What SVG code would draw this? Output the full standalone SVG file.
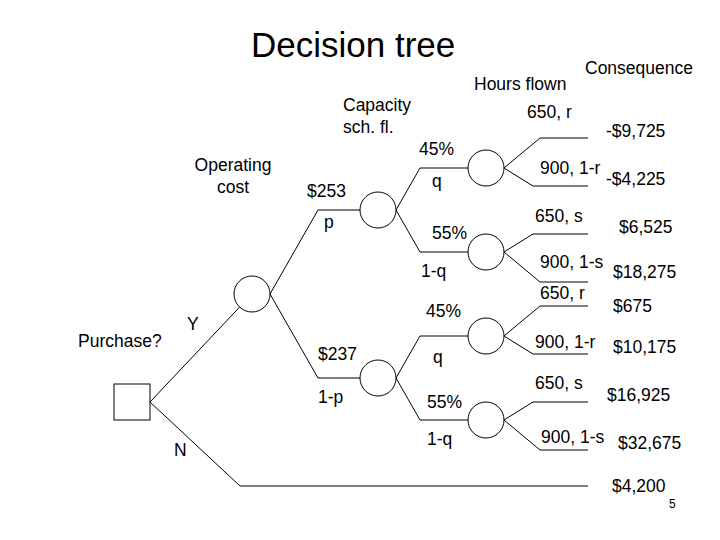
<svg xmlns="http://www.w3.org/2000/svg" width="720" height="540" viewBox="0 0 720 540">
<style>
text { font-family: "Liberation Sans", Arial, sans-serif; fill: #000; }
.t { font-size: 17.5px; }
.title { font-size: 35px; }
.pg { font-size: 12px; }
.c { fill: #fff; stroke: #000; stroke-width: 1; }
.e { fill: none; stroke: #000; stroke-width: 1; }
</style>
<rect width="720" height="540" fill="#fff"/>
<text class="title" x="251" y="57">Decision tree</text>
<text class="t" x="585" y="74">Consequence</text>
<text class="t" x="474" y="90">Hours flown</text>
<text class="t" x="343" y="111">Capacity</text>
<text class="t" x="343" y="133">sch. fl.</text>
<text class="t" x="233" y="171" text-anchor="middle">Operating</text>
<text class="t" x="233" y="193" text-anchor="middle">cost</text>

<g id="connectors">
  <polyline class="e" points="150,402 239.6,307.1"/>
  <polyline class="e" points="150,402 240,486 588,486"/>
  <polyline class="e" points="270,294 318,210 360,210"/>
  <polyline class="e" points="270,294 318,378 360,378"/>
  <polyline class="e" points="396,210 420,168 468,168"/>
  <polyline class="e" points="396,210 420,252 468,252"/>
  <polyline class="e" points="396,378 420,336 468,336"/>
  <polyline class="e" points="396,378 420,420 468,420"/>
  <polyline class="e" points="504,168 540,138 588,138"/>
  <polyline class="e" points="504,168 533,186 588,186"/>
  <polyline class="e" points="504,252 533,234 588,234"/>
  <polyline class="e" points="504,252 540,282 588,282"/>
  <polyline class="e" points="504,336 540,306 588,306"/>
  <polyline class="e" points="504,336 533,354 588,354"/>
  <polyline class="e" points="504,420 533,402 588,402"/>
  <polyline class="e" points="504,420 540,450 588,450"/>
</g>

<g id="purchase">
  <rect class="c" x="114" y="384" width="36" height="36"/>
  <text class="t" x="78" y="347">Purchase?</text>
</g>
<g id="opcost">
  <circle class="c" cx="252" cy="294" r="18"/>
</g>
<g id="cap1">
  <circle class="c" cx="378" cy="210" r="18"/>
</g>
<g id="cap2">
  <circle class="c" cx="378" cy="378" r="18"/>
</g>
<g id="hours1"><circle class="c" cx="486" cy="168" r="18"/></g>
<g id="hours2"><circle class="c" cx="486" cy="252" r="18"/></g>
<g id="hours3"><circle class="c" cx="486" cy="336" r="18"/></g>
<g id="hours4"><circle class="c" cx="486" cy="420" r="18"/></g>

<g id="labels">
  <text class="t" x="187" y="330">Y</text>
  <text class="t" x="174" y="456">N</text>
  <text class="t" x="307" y="197">$253</text>
  <text class="t" x="324" y="228">p</text>
  <text class="t" x="318" y="360">$237</text>
  <text class="t" x="318" y="403">1-p</text>
  <text class="t" x="419" y="155">45%</text>
  <text class="t" x="432" y="187">q</text>
  <text class="t" x="432" y="239">55%</text>
  <text class="t" x="421" y="277">1-q</text>
  <text class="t" x="426" y="317">45%</text>
  <text class="t" x="433" y="363">q</text>
  <text class="t" x="427" y="408">55%</text>
  <text class="t" x="427" y="445">1-q</text>

  <text class="t" x="527" y="118">650, r</text>
  <text class="t" x="540" y="174">900, 1-r</text>
  <text class="t" x="535" y="222">650, s</text>
  <text class="t" x="540" y="268">900, 1-s</text>
  <text class="t" x="540" y="299">650, r</text>
  <text class="t" x="535" y="348">900, 1-r</text>
  <text class="t" x="535" y="389">650, s</text>
  <text class="t" x="541" y="443">900, 1-s</text>

  <text class="t" x="606" y="137">-$9,725</text>
  <text class="t" x="606" y="185">-$4,225</text>
  <text class="t" x="619" y="233">$6,525</text>
  <text class="t" x="613" y="278">$18,275</text>
  <text class="t" x="613" y="312">$675</text>
  <text class="t" x="613" y="353">$10,175</text>
  <text class="t" x="607" y="401">$16,925</text>
  <text class="t" x="618" y="449">$32,675</text>
  <text class="t" x="612" y="492">$4,200</text>
</g>
<text class="pg" x="669" y="508">5</text>
</svg>
